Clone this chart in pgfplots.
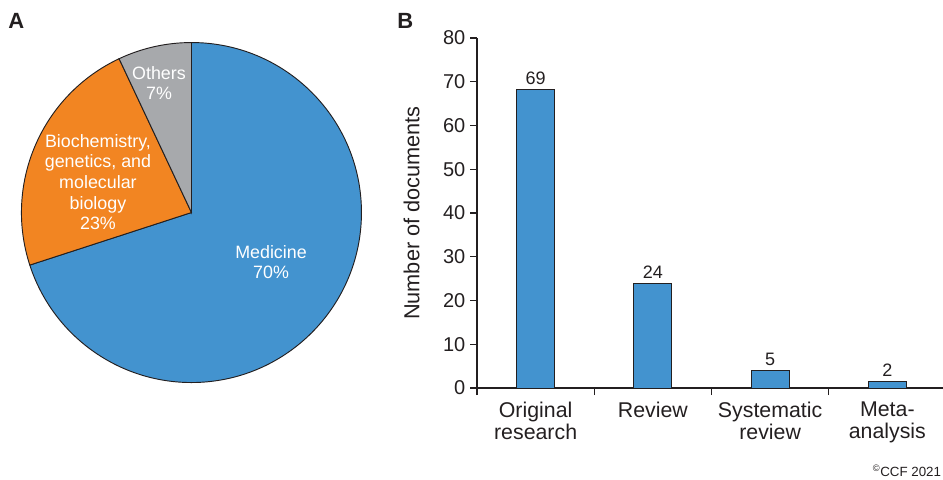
\documentclass[border=0pt]{standalone}
\usepackage{fontspec}
\setmainfont{Liberation Sans}
\usepackage{pgfplots}
\pgfplotsset{compat=1.18}

\definecolor{medblue}{HTML}{4393CF}
\definecolor{bioorange}{HTML}{F28522}
\definecolor{othgray}{HTML}{A7A9AC}
\definecolor{ink}{HTML}{231F20}

\begin{document}
\begin{tikzpicture}
% pie shares (percent)
\def\pMed{70}
\def\pBio{23}
\def\pOth{7}
\pgfmathsetmacro\aA{90}
\pgfmathsetmacro\aB{\aA-3.6*\pMed}
\pgfmathsetmacro\aC{\aB-3.6*\pBio}
\pgfmathsetmacro\aD{\aC-3.6*\pOth}
\def\rad{127.5pt}

% panel A: pie
\begin{axis}[
    at={(143.6pt,-159.4pt)}, anchor=origin,
    hide axis, x=127.5pt, y=127.5pt,
    xmin=-1, xmax=1, ymin=-1, ymax=1,
    clip=false,
]
\filldraw[fill=medblue, draw=ink, line width=0.7pt]
    (axis cs:0,0) -- ++(\aA:\rad) arc[start angle=\aA, end angle=\aB, radius=\rad] -- cycle;
\filldraw[fill=bioorange, draw=ink, line width=0.7pt]
    (axis cs:0,0) -- ++(\aB:\rad) arc[start angle=\aB, end angle=\aC, radius=\rad] -- cycle;
\filldraw[fill=othgray, draw=ink, line width=0.7pt]
    (axis cs:0,0) -- ++(\aC:\rad) arc[start angle=\aC, end angle=\aD, radius=\rad] -- cycle;
\begin{scope}[every node/.style={text=white, align=center, font=\fontsize{13.4}{15.4}\selectfont}]
\node at (axis cs:0.468,-0.291) {Medicine\\\pMed\%};
\node at (axis cs:-0.55,0.179) {Biochemistry,\\genetics, and\\molecular\\biology\\\pBio\%};
\node at (axis cs:-0.191,0.762) {Others\\\pOth\%};
\end{scope}
\end{axis}

% panel B: bars
\begin{axis}[
    at={(357.75pt,-291pt)}, anchor=south west,
    scale only axis, width=351.75pt, height=262.5pt,
    xmin=-0.5, xmax=3.5, ymin=0, ymax=80,
    axis x line*=bottom, axis y line*=left,
    axis line style={draw=ink, line width=1pt},
    every tick/.style={draw=ink, line width=0.8pt},
    tick align=outside,
    major tick length=5.25pt, minor tick length=5.25pt,
    ytick={0,10,...,80},
    xtick={0,1,2,3},
    xticklabels={{Original\\research},{Review},{Systematic\\review},{Meta-\\analysis}},
    x tick label style={align=center, font=\fontsize{16}{16.5}\selectfont, text=ink, yshift=-1.5pt},
    major x tick style={draw=none},
    minor xtick={-0.5,0.5,1.5,2.5,3.5},
    y tick label style={font=\fontsize{15}{18}\selectfont, text=ink},
    /pgf/number format/assume math mode=true,
    ylabel={Number of documents},
    ylabel style={at={(axis description cs:-0.1397,0.5)}, anchor=center,
        font=\fontsize{16.3}{18}\selectfont, text=ink},
    ybar, bar width=28.5pt,
    nodes near coords,
    point meta=explicit symbolic,
    every node near coord/.append style={font=\fontsize{13.5}{15}\selectfont, text=ink},
    clip=false,
]
\addplot[fill=medblue, draw=ink, line width=0.7pt]
    coordinates {(0,68.2) [69] (1,23.8) [24] (2,4) [5] (3,1.6) [2]};
\end{axis}

\node[anchor=base west, inner sep=0pt, font=\bfseries\fontsize{16.5}{18}\selectfont, text=ink] at (6pt,-21pt) {A};
\node[anchor=base west, inner sep=0pt, font=\bfseries\fontsize{16.5}{18}\selectfont, text=ink] at (297.75pt,-21pt) {B};
\node[anchor=base east, inner sep=0pt, font=\fontsize{10}{11}\selectfont, text=ink] at (706pt,-357pt) {\textsuperscript{\copyright}CCF 2021};

\pgfresetboundingbox
\path[use as bounding box] (0pt,0pt) rectangle (707.25pt,-359.25pt);
\end{tikzpicture}
\end{document}
